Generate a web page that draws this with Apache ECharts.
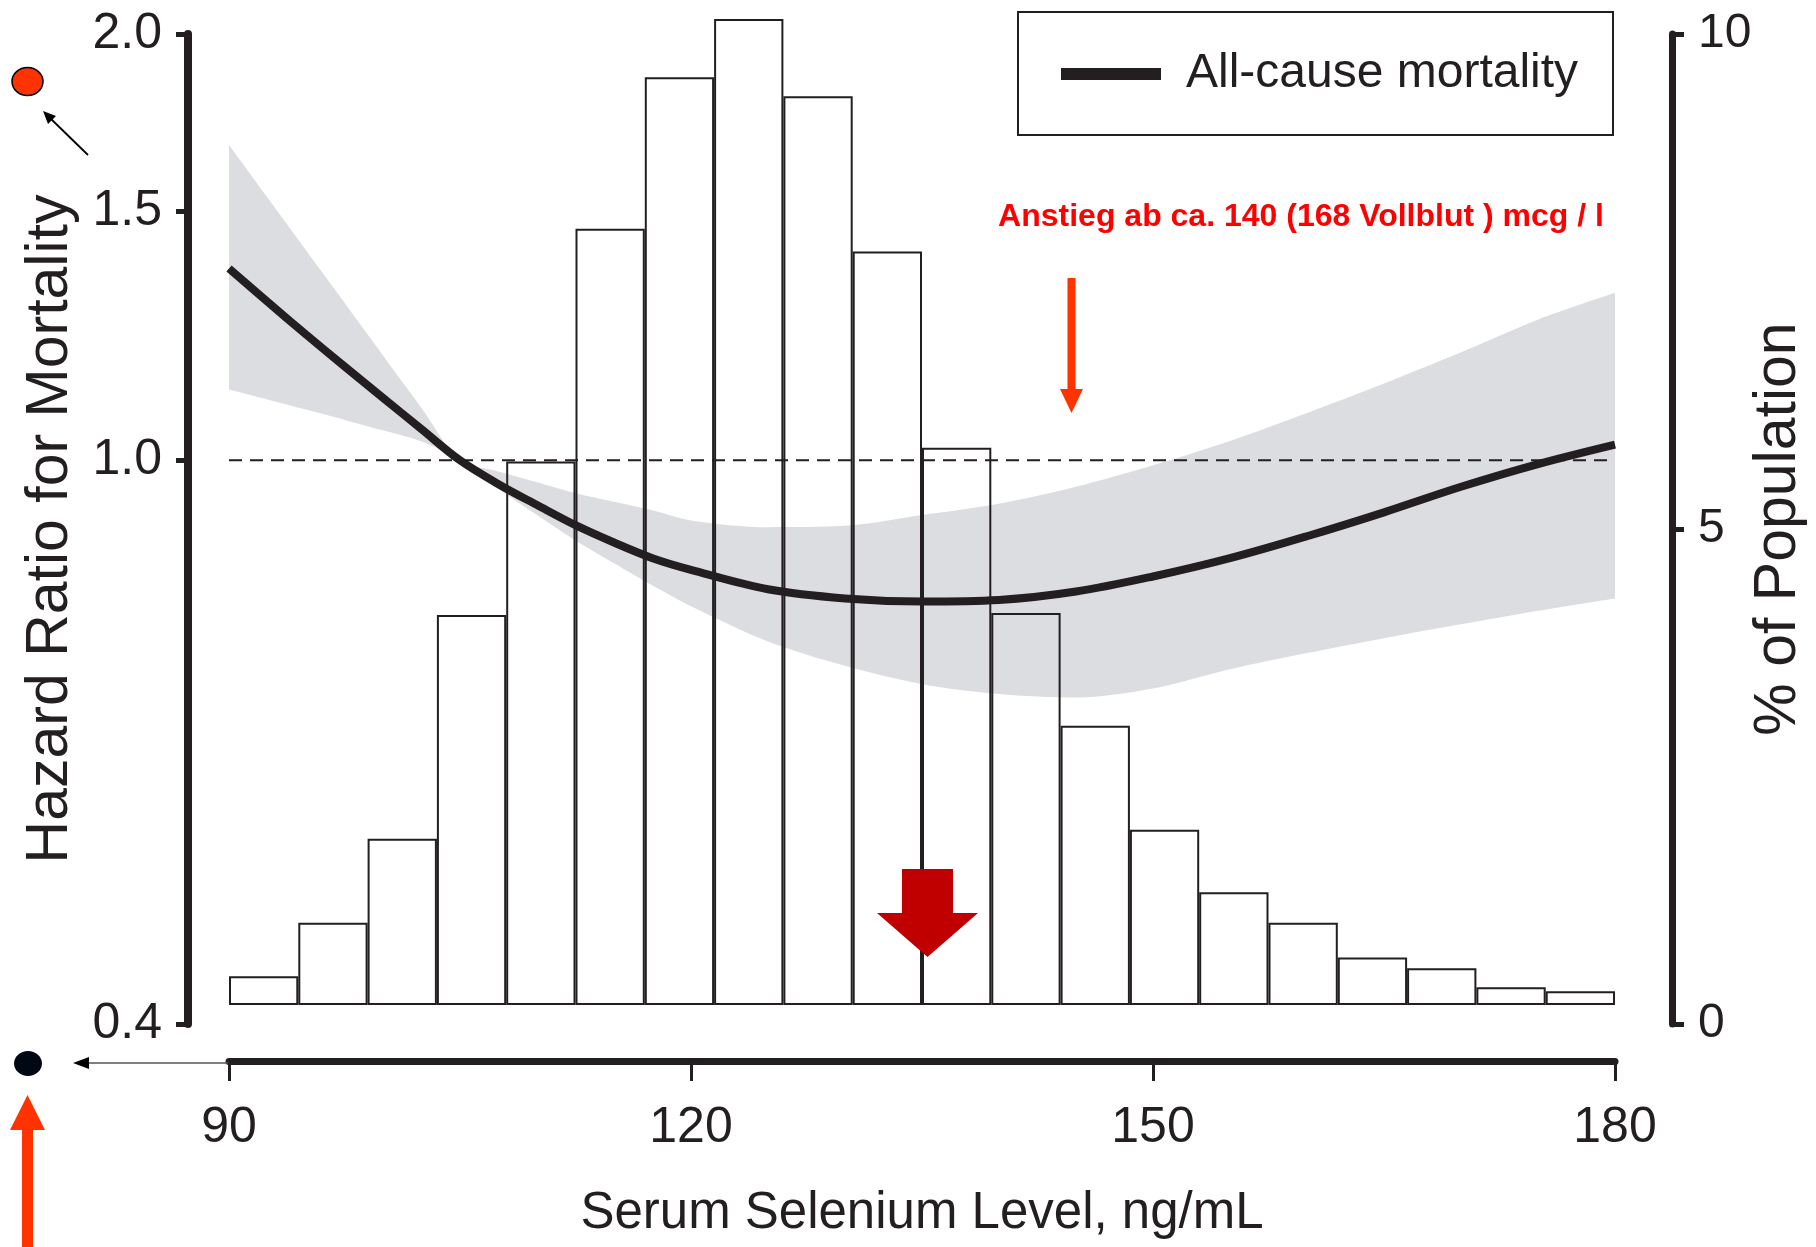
<!DOCTYPE html>
<html><head><meta charset="utf-8">
<script src="https://cdn.jsdelivr.net/npm/echarts@6/dist/echarts.min.js"></script>
<style>html,body{margin:0;padding:0;background:#fff}#c{width:1816px;height:1247px}</style>
</head><body><div id="c"></div>
<script>
// ---- data ----
const seleniumX   = [90, 92.5, 95, 97.5, 100, 102.5, 105, 107.5, 110, 112.5, 115, 117.5, 120, 125, 130, 135, 140, 145, 150, 155, 160, 165, 170, 175, 180];
const hazardRatio = [1.366, 1.294, 1.227, 1.165, 1.107, 1.052, 1.000, 0.962, 0.930, 0.900, 0.875, 0.853, 0.837, 0.811, 0.799, 0.795, 0.797, 0.808, 0.828, 0.853, 0.884, 0.919, 0.958, 0.994, 1.026];
const ciUpper     = [1.670, 1.533, 1.407, 1.292, 1.186, 1.089, 1.000, 0.982, 0.965, 0.948, 0.935, 0.922, 0.907, 0.897, 0.899, 0.915, 0.932, 0.958, 0.992, 1.032, 1.080, 1.133, 1.192, 1.257, 1.313];
const ciLower     = [1.122, 1.104, 1.086, 1.068, 1.050, 1.031, 1.000, 0.955, 0.915, 0.878, 0.846, 0.816, 0.789, 0.745, 0.716, 0.695, 0.684, 0.680, 0.690, 0.712, 0.731, 0.749, 0.766, 0.783, 0.799];
const binLabels   = ['90–94.5','94.5–99','99–103.5','103.5–108','108–112.5','112.5–117','117–121.5','121.5–126','126–130.5','130.5–135','135–139.5','139.5–144','144–148.5','148.5–153','153–157.5','157.5–162','162–166.5','166.5–171','171–175.5','175.5–180'];
const populationPct = [0.29, 0.83, 1.68, 3.94, 5.49, 7.84, 9.37, 9.96, 9.18, 7.61, 5.63, 3.96, 2.82, 1.77, 1.14, 0.83, 0.48, 0.37, 0.18, 0.14];
const hrTicks  = [0.4, 1.0, 1.5, 2.0];
const pctTicks = [0, 5, 10];
const xTicks   = [90, 120, 150, 180];
const referenceHR = 1.0;

// ---- styling ----
const INK = '#231f20';
const BAND = '#dcdde0';
const SANS = '"Liberation Sans", Arial, Helvetica, sans-serif';
const ln = Math.log;

const chart = echarts.init(document.getElementById('c'), null, {renderer: 'canvas'});
const option = {
  animation: false,
  backgroundColor: '#ffffff',
  grid: [
    {left: 229, right: 201, top: 34, bottom: 223, containLabel: false, outerBoundsMode: 'none'},
    {left: 229, right: 201, top: 15, bottom: 242, containLabel: false, outerBoundsMode: 'none'}
  ],
  legend: {
    data: ['All-cause mortality'], left: 1061, top: 50, icon: 'rect',
    itemWidth: 100, itemHeight: 12, padding: 0, selectedMode: false,
    textStyle: {fontFamily: SANS, fontSize: 48, color: INK, padding: [0, 0, 0, 20]}
  },
  xAxis: [
    {type: 'value', gridIndex: 0, min: xTicks[0], max: xTicks[xTicks.length - 1], interval: xTicks[1] - xTicks[0],
     position: 'bottom', offset: 37,
     axisLine: {show: true, onZero: false, lineStyle: {color: INK, width: 7}},
     axisTick: {show: true, length: 20, lineStyle: {color: INK, width: 3}},
     axisLabel: {fontFamily: SANS, fontSize: 50, color: INK, margin: 42},
     splitLine: {show: false},
     name: 'Serum Selenium Level, ng/mL', nameLocation: 'middle', nameGap: 127, nameMoveOverlap: false,
     nameTextStyle: {fontFamily: SANS, fontSize: 51, color: INK}},
    {type: 'category', gridIndex: 1, data: binLabels, show: false, boundaryGap: true}
  ],
  yAxis: [
    {type: 'value', gridIndex: 0, min: ln(hrTicks[0]), max: ln(hrTicks[hrTicks.length - 1]),
     position: 'left', offset: 41,
     axisLine: {show: true, onZero: false, lineStyle: {color: INK, width: 8}},
     axisTick: {show: true, length: 12, customValues: hrTicks.map(ln), lineStyle: {color: INK, width: 5}},
     axisLabel: {customValues: hrTicks.map(ln), formatter: v => Math.exp(v).toFixed(1),
                 fontFamily: SANS, fontSize: 50, color: INK, margin: 26},
     splitLine: {show: false},
     name: 'Hazard Ratio for Mortality', nameLocation: 'middle', nameGap: 108, nameRotate: 90, nameMoveOverlap: false,
     nameTextStyle: {fontFamily: SANS, fontSize: 59, color: INK}},
    {type: 'value', gridIndex: 0, min: pctTicks[0], max: pctTicks[pctTicks.length - 1], interval: pctTicks[1] - pctTicks[0],
     position: 'right', offset: 57,
     axisLine: {show: true, onZero: false, lineStyle: {color: INK, width: 7}},
     axisTick: {show: true, length: 12, lineStyle: {color: INK, width: 5}},
     axisLabel: {fontFamily: SANS, fontSize: 48, color: INK, margin: 26},
     splitLine: {show: false},
     name: '% of Population', nameLocation: 'middle', nameGap: 77, nameRotate: 90, nameMoveOverlap: false,
     nameTextStyle: {fontFamily: SANS, fontSize: 59, color: INK}},
    {type: 'value', gridIndex: 1, min: pctTicks[0], max: pctTicks[pctTicks.length - 1], show: false}
  ],
  series: [
    // confidence band: value column first so that the stack is applied to the y values
    {name: 'ciLow', type: 'line', xAxisIndex: 0, yAxisIndex: 0, stack: 'ci', stackStrategy: 'all',
     dimensions: ['lnHR', 'selenium'], encode: {x: 1, y: 0},
     data: seleniumX.map((x, i) => [ln(ciLower[i]), x]), symbol: 'none', smooth: 0.3,
     lineStyle: {opacity: 0}, z: 1, silent: true},
    {name: 'ciBand', type: 'line', xAxisIndex: 0, yAxisIndex: 0, stack: 'ci', stackStrategy: 'all',
     dimensions: ['lnHR', 'selenium'], encode: {x: 1, y: 0},
     data: seleniumX.map((x, i) => [ln(ciUpper[i]) - ln(ciLower[i]), x]), symbol: 'none', smooth: 0.3,
     lineStyle: {opacity: 0}, areaStyle: {color: BAND, opacity: 1}, z: 1, silent: true},
    {name: 'population', type: 'bar', xAxisIndex: 1, yAxisIndex: 2, data: populationPct,
     barCategoryGap: '0%', itemStyle: {color: 'rgba(255,255,255,0)', borderColor: INK, borderWidth: 2},
     z: 2, silent: true},
    {name: 'reference', type: 'line', xAxisIndex: 0, yAxisIndex: 0,
     data: [[xTicks[0], ln(referenceHR)], [xTicks[xTicks.length - 1], ln(referenceHR)]],
     symbol: 'none', lineStyle: {color: INK, width: 2, type: [13, 8]}, z: 3, silent: true},
    {name: 'All-cause mortality', type: 'line', xAxisIndex: 0, yAxisIndex: 0,
     data: seleniumX.map((x, i) => [x, ln(hazardRatio[i])]), symbol: 'none', smooth: 0.35,
     itemStyle: {color: INK}, lineStyle: {color: INK, width: 8}, z: 4, silent: true}
  ],
  graphic: [
    {type: 'rect', shape: {x: 1018, y: 12, width: 595, height: 123}, style: {fill: 'none', stroke: INK, lineWidth: 2}, z: 10},
    {type: 'text', x: 1301, y: 217, z: 10,
     style: {text: 'Anstieg ab ca. 140 (168 Vollblut ) mcg / l', fill: '#ff0000',
             font: 'bold 32px "Liberation Sans", Arial, sans-serif',
             textAlign: 'center', textVerticalAlign: 'middle', align: 'center', verticalAlign: 'middle'}},
    {type: 'line', shape: {x1: 1071.5, y1: 278, x2: 1071.5, y2: 392}, style: {stroke: '#ff3300', lineWidth: 8}, z: 10},
    {type: 'polygon', shape: {points: [[1060, 389], [1083, 389], [1071.5, 413]]}, style: {fill: '#ff3300'}, z: 10},
    {type: 'polygon', shape: {points: [[902, 869], [953, 869], [953, 913], [978, 913], [927.5, 957], [877, 913], [902, 913]]},
     style: {fill: '#c00000'}, z: 10},
    {type: 'ellipse', shape: {cx: 27.5, cy: 81.5, rx: 15.5, ry: 14}, style: {fill: '#ff3300', stroke: '#000', lineWidth: 1.5}, z: 10},
    {type: 'line', shape: {x1: 88, y1: 155, x2: 50, y2: 118}, style: {stroke: '#000', lineWidth: 1.8}, z: 10},
    {type: 'polygon', shape: {points: [[43, 111], [56, 116], [48, 124]]}, style: {fill: '#000'}, z: 10},
    {type: 'ellipse', shape: {cx: 28, cy: 1063.5, rx: 14, ry: 12.5}, style: {fill: '#000814'}, z: 10},
    {type: 'line', shape: {x1: 228, y1: 1063, x2: 84, y2: 1063}, style: {stroke: '#555', lineWidth: 1.5}, z: 10},
    {type: 'polygon', shape: {points: [[73, 1063], [89, 1057], [89, 1069]]}, style: {fill: '#000'}, z: 10},
    {type: 'polygon', shape: {points: [[10, 1130], [45, 1130], [27.5, 1095]]}, style: {fill: '#ff3300'}, z: 10},
    {type: 'rect', shape: {x: 22, y: 1128, width: 11, height: 119}, style: {fill: '#ff3300'}, z: 10}
  ]
};
chart.setOption(option);
</script>
</body></html>
